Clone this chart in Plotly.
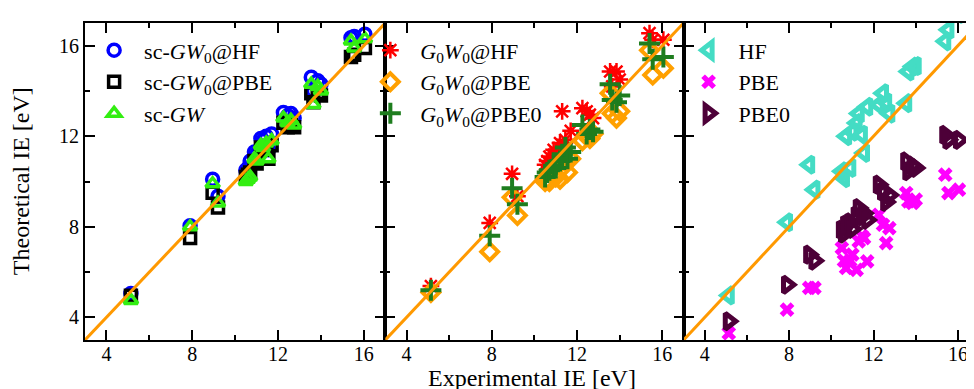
import plotly.graph_objects as go

# experimental ionisation energies (eV), shared by every series
EXP_IE = [5.14, 7.90, 8.95, 9.20, 10.50, 10.60, 10.70, 10.90, 11.00, 11.20, 11.30, 11.45, 11.55,
          11.70, 12.25, 12.45, 12.60, 12.75, 13.55, 13.65, 13.85, 14.00, 15.40, 15.55, 16.05]

# panel 1: self-consistent GW
SC_GW0_HF = [5.05, 8.05, 10.10, 9.35, 10.50, 10.60, 10.90, 11.30, 11.20, 11.90, 11.80, 12.00, 11.40,
             12.10, 13.05, 12.90, 13.00, 12.80, 14.60, 14.00, 14.45, 14.30, 16.35, 16.40, 16.50]
SC_GW0_PBE = [4.95, 7.50, 9.50, 8.85, 10.20, 10.30, 10.40, 10.90, 10.80, 11.50, 11.40, 11.40, 11.00,
              11.60, 12.60, 12.40, 12.50, 12.40, 13.90, 13.50, 13.90, 13.80, 15.50, 15.60, 15.90]
SC_GW = [4.75, 8.00, 9.90, 9.05, 10.00, 10.10, 10.20, 11.00, 10.90, 11.60, 11.50, 11.70, 11.00,
         11.80, 12.80, 12.60, 12.70, 12.50, 14.30, 13.40, 14.20, 14.00, 16.20, 15.90, 16.30]

# panel 2: one-shot G0W0
G0W0_HF = [5.38, 8.17, 10.34, 9.35, 10.74, 10.90, 11.10, 11.40, 11.30, 11.70, 13.10, 11.84, 11.50,
           12.24, 13.24, 13.10, 12.95, 12.80, 14.86, 14.20, 14.86, 14.50, 16.55, 16.26, 16.26]
G0W0_PBE = [5.10, 6.90, 9.30, 8.50, 10.00, 10.10, 10.00, 10.30, 10.20, 10.10, 10.60, 10.90, 10.40,
            11.00, 11.80, 12.00, 11.90, 12.10, 13.90, 13.00, 12.80, 13.10, 15.80, 14.70, 15.00]
G0W0_PBE0 = [5.20, 7.60, 9.70, 9.00, 10.20, 10.40, 10.50, 10.70, 10.60, 10.90, 11.20, 11.50, 11.00,
             11.30, 12.50, 12.10, 12.30, 12.20, 14.30, 13.60, 13.50, 13.80, 16.10, 15.40, 15.50]

# panel 3: mean-field (last HF value lies above the axis range)
HF = [4.97, 8.20, 10.74, 9.64, 10.45, 10.15, 12.00, 10.60, 12.20, 12.58, 13.00, 12.06, 11.26,
      13.30, 13.39, 13.90, 13.50, 13.00, 13.46, 14.86, 15.08, 15.10, 16.19, 16.70, 17.40]
PBE = [3.30, 4.34, 5.30, 5.30, 7.06, 6.50, 6.18, 6.50, 6.77, 6.10, 7.36, 7.60, 7.50,
       6.47, 8.53, 8.09, 7.28, 7.94, 9.49, 9.12, 9.05, 9.20, 10.30, 9.49, 9.64]
PBE0 = [3.83, 5.44, 6.77, 6.50, 7.87, 7.70, 8.09, 8.20, 7.90, 8.50, 8.83, 8.46, 8.60,
        8.30, 9.86, 9.56, 9.10, 9.40, 10.89, 10.45, 10.70, 10.60, 12.06, 11.84, 11.84]

AXIS_RANGE = [3, 17]
TICKS = [4, 8, 12, 16]

FONT = "Liberation Serif"

panels = [
    [("sc-<i>GW</i><sub>0</sub>@HF", SC_GW0_HF, "circle-open", "#0000ff"),
     ("sc-<i>GW</i><sub>0</sub>@PBE", SC_GW0_PBE, "square-open", "#000000"),
     ("sc-<i>GW</i>", SC_GW, "triangle-up-open", "#33ee11")],
    [("<i>G</i><sub>0</sub><i>W</i><sub>0</sub>@HF", G0W0_HF, "asterisk-open", "#ff0000"),
     ("<i>G</i><sub>0</sub><i>W</i><sub>0</sub>@PBE", G0W0_PBE, "diamond-open", "#ffa000"),
     ("<i>G</i><sub>0</sub><i>W</i><sub>0</sub>@PBE0", G0W0_PBE0, "cross-thin-open", "#1e7d1e")],
    [("HF", HF, "triangle-left-open", "#44dcc4"),
     ("PBE", PBE, "x", "#ff00ff"),
     ("PBE0", PBE0, "triangle-right-open", "#4d0038")],
]

# marker size / outline width per symbol
STYLE = {
    "circle-open": (12, 3.5),
    "square-open": (11, 3.5),
    "triangle-up-open": (12, 3.5),
    "asterisk-open": (14, 2.5),
    "diamond-open": (13, 4),
    "cross-thin-open": (15, 4),
    "triangle-left-open": (14, 5),
    "x": (13, 0),
    "triangle-right-open": (14, 5),
}

domains = [[0, 0.3359], [0.3359, 0.6696], [0.6696, 1.0]]
legend_x = [-0.001, 0.308, 0.664]

fig = go.Figure()
for i, series in enumerate(panels):
    xa = "x" if i == 0 else f"x{i + 1}"
    ya = "y" if i == 0 else f"y{i + 1}"
    lg = "legend" if i == 0 else f"legend{i + 1}"
    for name, vals, sym, col in series:
        size, lw = STYLE[sym]
        fig.add_trace(go.Scatter(
            x=EXP_IE, y=vals, mode="markers", name=name, xaxis=xa, yaxis=ya, legend=lg,
            marker=dict(symbol=sym, size=size, color=col, line=dict(color=col, width=lw)),
        ))
    fig.add_trace(go.Scatter(
        x=AXIS_RANGE, y=AXIS_RANGE, mode="lines", xaxis=xa, yaxis=ya, showlegend=False,
        line=dict(color="#ff9900", width=3), hoverinfo="skip",
    ))

axis_common = dict(
    range=AXIS_RANGE, tickvals=TICKS, ticks="inside", ticklen=10, tickwidth=2, tickcolor="black",
    showline=True, linecolor="black", linewidth=2, mirror="ticks", showgrid=False, zeroline=False,
    minor=dict(ticks="inside", ticklen=5, tickwidth=2, tickcolor="black", dtick=2, tick0=0),
    tickfont=dict(family=FONT, size=20, color="black"),
)

layout = dict(
    width=974, height=389, paper_bgcolor="white", plot_bgcolor="white",
    margin=dict(l=77, r=1, t=15, b=57),
    font=dict(family=FONT, size=20, color="black"),
    annotations=[
        dict(text="Experimental IE [eV]", xref="paper", yref="paper", x=0.5, y=-0.072,
             xanchor="center", yanchor="top", showarrow=False, font=dict(family=FONT, size=24)),
        dict(text="Theoretical IE [eV]", xref="paper", yref="paper", x=-0.072, y=0.5,
             xanchor="center", yanchor="middle", textangle=-90, showarrow=False,
             font=dict(family=FONT, size=24)),
    ],
)
for i in range(3):
    sfx = "" if i == 0 else str(i + 1)
    layout[f"xaxis{sfx}"] = dict(axis_common, domain=domains[i], anchor=f"y{sfx}",
                                 ticklabelstandoff=-5)
    yax = dict(axis_common, anchor=f"x{sfx}")
    if i > 0:
        yax["showticklabels"] = False
    layout[f"yaxis{sfx}"] = yax
    layout[f"legend{sfx}"] = dict(
        x=legend_x[i], y=0.98, xanchor="left", yanchor="top", bgcolor="rgba(0,0,0,0)",
        font=dict(family=FONT, size=22), itemwidth=50, tracegroupgap=0,
    )

fig.update_layout(**layout)
fig.write_html("out.html")
